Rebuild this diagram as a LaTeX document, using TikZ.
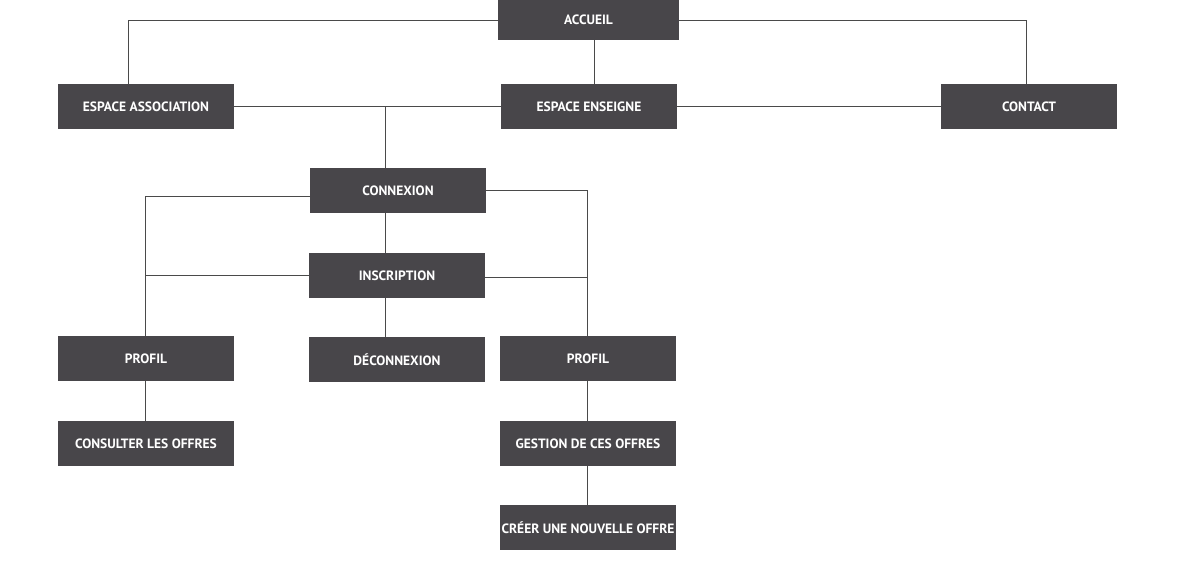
\documentclass[tikz,border=0pt]{standalone}
\usepackage{fontspec}
\setmainfont{PT Sans}
\usetikzlibrary{calc}
\definecolor{boxfill}{HTML}{48464A}
\definecolor{linecol}{HTML}{4A4A4A}
\begin{document}
\begin{tikzpicture}[x=1pt,y=-1pt,
  box/.style={rectangle,fill=boxfill,text=white,font=\bfseries\fontsize{13.5}{15}\selectfont,
    minimum width=176pt,minimum height=45pt,inner sep=0pt,anchor=center},
  conn/.style={draw=linecol,line width=0.8pt}]
\useasboundingbox (0,0) rectangle (1177,570);
\node[box,minimum width=181pt,minimum height=40pt] (accueil) at (588.5,20) {ACCUEIL};
\node[box] (assoc) at (146,106.5) {ESPACE ASSOCIATION};
\node[box] (enseigne) at (589,106.5) {ESPACE ENSEIGNE};
\node[box] (contact) at (1029,106.5) {CONTACT};
\node[box] (connexion) at (398,190.5) {CONNEXION};
\node[box] (inscription) at (397,275.5) {INSCRIPTION};
\node[box] (profilL) at (146,358.5) {PROFIL};
\node[box] (deconnexion) at (397,359.5) {DÉCONNEXION};
\node[box] (profilR) at (588,358.5) {PROFIL};
\node[box] (consulter) at (146,443.5) {CONSULTER LES OFFRES};
\node[box] (gestion) at (588,443.5) {GESTION DE CES OFFRES};
\node[box] (creer) at (588,527.5) {CRÉER UNE NOUVELLE OFFRE};
\coordinate (xassoc) at (128,0);
\coordinate (xcontact) at (1026,0);
\coordinate (xacc) at (594,0);
\coordinate (xmid) at (385,0);
\coordinate (xL) at (145,0);
\coordinate (xR) at (587,0);
\coordinate (insE) at ([yshift=-1.5pt]inscription.east);
\coordinate (conW) at ([yshift=-5.5pt]connexion.west);
% top level
\draw[conn] (accueil.west) -| (xassoc |- assoc.north);
\draw[conn] (accueil.east) -| (xcontact |- contact.north);
\draw[conn] (xacc |- accueil.south) -- (xacc |- enseigne.north);
\draw[conn] (assoc.east) -- (enseigne.west);
\draw[conn] (enseigne.east) -- (contact.west);
\draw[conn] (xmid |- assoc.east) -- (xmid |- connexion.north);
% connexion
\draw[conn] (conW) -| (xL |- profilL.north);
\draw[conn] (inscription.west) -- (xL |- inscription.west);
\draw[conn] (connexion.east) -| (xR |- profilR.north);
\draw[conn] (insE) -- (xR |- insE);
\draw[conn] (xmid |- connexion.south) -- (xmid |- inscription.north);
\draw[conn] (xmid |- inscription.south) -- (xmid |- deconnexion.north);
% profils
\draw[conn] (xL |- profilL.south) -- (xL |- consulter.north);
\draw[conn] (xR |- profilR.south) -- (xR |- gestion.north);
\draw[conn] (xR |- gestion.south) -- (xR |- creer.north);
\end{tikzpicture}
\end{document}
